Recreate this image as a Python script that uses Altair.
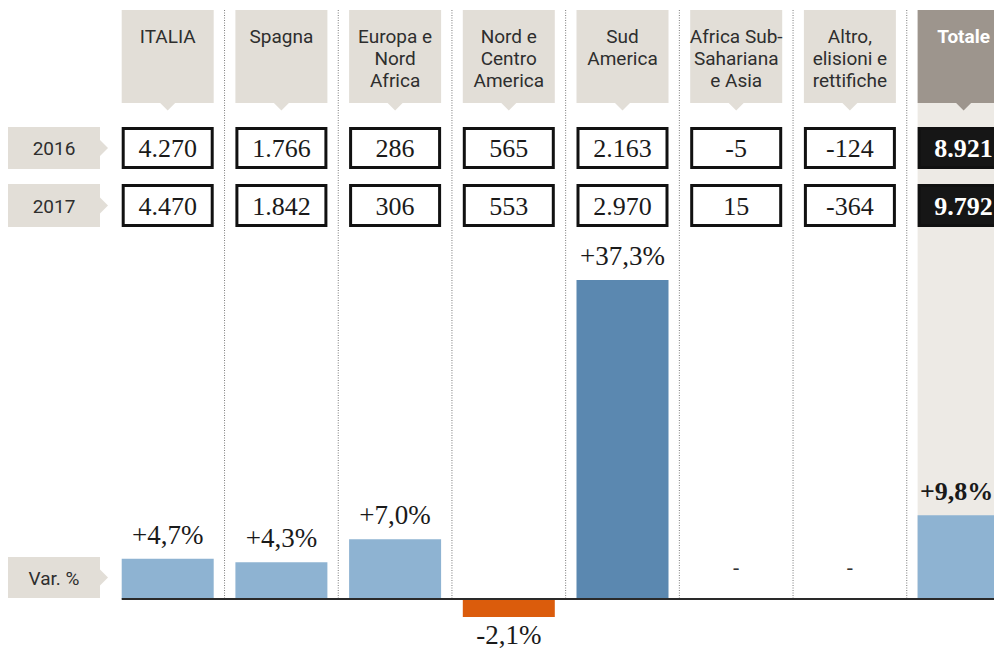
import altair as alt
import pandas as pd

# ---------------- data ----------------
columns = ["ITALIA", "Spagna", "Europa e Nord Africa", "Nord e Centro America",
           "Sud America", "Africa Sub-Sahariana e Asia", "Altro, elisioni e rettifiche", "Totale"]
header_labels = ["ITALIA", "Spagna", "Europa e\nNord\nAfrica", "Nord e\nCentro\nAmerica",
                 "Sud\nAmerica", "Africa Sub-\nSahariana\ne Asia", "Altro,\nelisioni e\nrettifiche", "Totale"]
values_2016 = ["4.270", "1.766", "286", "565", "2.163", "-5", "-124", "8.921"]
values_2017 = ["4.470", "1.842", "306", "553", "2.970", "15", "-364", "9.792"]
var_pct = [4.7, 4.3, 7.0, -2.1, 37.3, None, None, 9.8]
var_labels = ["+4,7%", "+4,3%", "+7,0%", "-2,1%", "+37,3%", "-", "-", "+9,8%"]
bar_group = ["up", "up", "up", "down", "highlight", "none", "none", "up"]
row_labels = ["2016", "2017", "Var. %"]

# ---------------- styles ----------------
BOX_GRAY = "#e2ded7"
TOTAL_HEAD = "#9d958d"
TOTAL_BG = "#edeae5"
LIGHT_BLUE = "#8eb3d2"
DARK_BLUE = "#5b88b0"
ORANGE = "#db5c0c"
SANS = "Roboto"
SERIF = "Liberation Serif"
W, H = 986, 643
STEP = 113.7          # px per column
HALF = 46 / STEP      # half of the box width in column units
INSET = 1.5 / STEP    # half border inset
XMAX = (W - 46) / STEP

df = pd.DataFrame({
    "key": columns,
    "idx": list(range(1, len(columns) + 1)),
    "header": header_labels,
    "v2016": values_2016,
    "v2017": values_2017,
    "pct": var_pct,
    "pct_label": var_labels,
    "grp": bar_group,
})
df["zero"] = 0.0
labels_df = pd.DataFrame({"label": row_labels, "idx": [0] * len(row_labels)})

xscale = alt.Scale(domain=[-HALF, XMAX], nice=False, zero=False)
yscale = alt.Scale(domain=[-6.08, 69.12], nice=False, zero=False)

X = alt.X("idx:Q", scale=xscale, axis=None)
X0 = alt.X("x0:Q", scale=xscale, axis=None)
X1 = alt.X2("x1:Q")
XB0 = alt.X("xb0:Q", scale=xscale, axis=None)
XB1 = alt.X2("xb1:Q")

base = alt.Chart(df).transform_calculate(
    x0=f"datum.idx - {HALF}", x1=f"datum.idx + {HALF}",
    xb0=f"datum.idx - {HALF - INSET}", xb1=f"datum.idx + {HALF - INSET}",
    sep="datum.idx - 0.5", xend=f"{XMAX}")
is_total = "datum.key == 'Totale'"
not_total = "datum.key != 'Totale'"

layers = []

# Totale column background
layers.append(base.transform_filter(is_total).mark_rect(color=TOTAL_BG, clip=True).encode(
    x=X0, x2=X1, y=alt.value(95), y2=alt.value(591)))

# dotted separators between columns
layers.append(base.transform_filter("datum.key != 'ITALIA'").mark_rule(
    color="#7a7a7a", strokeWidth=1, strokeDash=[1, 1.5]).encode(
    x=alt.X("sep:Q", scale=xscale, axis=None),
    y=alt.value(2), y2=alt.value(590)))

# header boxes and pointers
head_fill = alt.condition(is_total, alt.value(TOTAL_HEAD), alt.value(BOX_GRAY))
layers.append(base.mark_rect(clip=True).encode(x=X0, x2=X1, y=alt.value(2), y2=alt.value(95),
                                               fill=head_fill))
layers.append(base.mark_point(shape="M-1,0L1,0L0,1Z", size=256, filled=True, opacity=1,
                              strokeWidth=0).encode(
    x=X, y=alt.value(94.5), fill=head_fill))

# header texts
layers.append(base.transform_filter(not_total).mark_text(
    lineBreak="\n", baseline="top", font=SANS, fontSize=19, lineHeight=22,
    color="#2e2e2e").encode(x=X, y=alt.value(20), text="header:N"))
layers.append(base.transform_filter(is_total).mark_text(
    lineBreak="\n", baseline="top", font=SANS, fontSize=19, lineHeight=22,
    fontWeight="bold", color="white").encode(x=X, y=alt.value(20), text="header:N"))

# row label boxes (2016, 2017, Var. %)
row_spans = [(119, 161), (176, 219), (549, 590)]
lbase = alt.Chart(labels_df).transform_calculate(
    x0=f"datum.idx - {HALF}", x1=f"datum.idx + {HALF}")
for lab, (y0, y1) in zip(row_labels, row_spans):
    sel = lbase.transform_filter(alt.datum.label == lab)
    layers.append(sel.mark_rect(color=BOX_GRAY).encode(
        x=X0, x2=X1, y=alt.value(y0), y2=alt.value(y1)))
    layers.append(sel.mark_point(shape="M0,-1L1,0L0,1Z", size=256, filled=True,
                                 opacity=1, strokeWidth=0, color=BOX_GRAY).encode(
        x=alt.X("x1:Q", scale=xscale, axis=None),
        y=alt.value((y0 + y1) / 2)))
    layers.append(sel.mark_text(font=SANS, fontSize=19, color="#2e2e2e",
                                baseline="middle").encode(
        x=X, y=alt.value((y0 + y1) / 2 + 1), text="label:N"))

# value cells
for field, (y0, y1) in zip(["v2016", "v2017"], row_spans[:2]):
    layers.append(base.mark_rect(stroke="#111111", strokeWidth=3, clip=True).encode(
        x=XB0, x2=XB1, y=alt.value(y0 + 1.5), y2=alt.value(y1 - 1.5),
        fill=alt.condition(is_total, alt.value("#161616"), alt.value("white"))))
    layers.append(base.transform_filter(not_total).mark_text(
        font=SERIF, fontSize=26, color="#1a1a1a", baseline="middle").encode(
        x=X, y=alt.value((y0 + y1) / 2 + 1), text=f"{field}:N"))
    layers.append(base.transform_filter(is_total).mark_text(
        font=SERIF, fontSize=26, fontWeight="bold", color="white", baseline="middle").encode(
        x=X, y=alt.value((y0 + y1) / 2 + 1), text=f"{field}:N"))

# variation bars
Y = alt.Y("pct:Q", scale=yscale, axis=None)
layers.append(base.transform_filter("isValid(datum.pct)").mark_rect(clip=True).encode(
    x=X0, x2=X1, y=Y, y2=alt.Y2("zero:Q"),
    color=alt.Color("grp:N", scale=alt.Scale(domain=["up", "down", "highlight"],
                                             range=[LIGHT_BLUE, ORANGE, DARK_BLUE]),
                    legend=None)))

# variation labels
layers.append(base.transform_filter(
    "isValid(datum.pct) && datum.pct > 0 && datum.key != 'Totale'").mark_text(
    font=SERIF, fontSize=27, color="#1a1a1a", baseline="alphabetic", dy=-15).encode(
    x=X, y=Y, text="pct_label:N"))
layers.append(base.transform_filter(
    "isValid(datum.pct) && datum.pct > 0 && datum.key == 'Totale'").mark_text(
    font=SERIF, fontSize=26, fontWeight="bold", color="#1a1a1a", baseline="alphabetic",
    dy=-15, dx=-7).encode(x=X, y=Y, text="pct_label:N"))
layers.append(base.transform_filter("isValid(datum.pct) && datum.pct < 0").mark_text(
    font=SERIF, fontSize=27, color="#1a1a1a", baseline="top", dy=6).encode(
    x=X, y=Y, text="pct_label:N"))
layers.append(base.transform_filter("!isValid(datum.pct)").mark_text(
    font=SERIF, fontSize=20, color="#333333", baseline="middle", dy=-31).encode(
    x=X, y=alt.Y("zero:Q", scale=yscale, axis=None), text="pct_label:N"))

# baseline from the first data column to the right edge
layers.append(base.transform_filter("datum.key == 'ITALIA'").mark_rule(
    color="#2a2a2a", strokeWidth=2).encode(
    x=X0, x2=alt.X2("xend:Q"), y=alt.Y("zero:Q", scale=yscale, axis=None)))

chart = alt.layer(*layers).properties(
    width=W, height=H, padding=0,
    autosize=alt.AutoSizeParams(type="none"),
).configure_view(stroke=None)

chart.save("out.html", embed_options={"renderer": "svg", "actions": False})
